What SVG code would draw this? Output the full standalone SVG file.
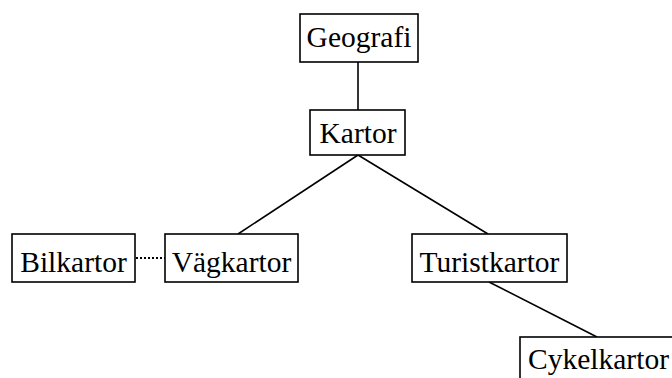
<svg xmlns="http://www.w3.org/2000/svg" width="672" height="378" viewBox="0 0 672 378">
  <style>
    .box { fill: #ffffff; stroke: #000000; stroke-width: 1.6; }
    .label { font-family: "Liberation Serif", "Times New Roman", serif; font-size: 29.5px; fill: #000000; text-anchor: middle; }
    .link { stroke: #000000; stroke-width: 1.6; fill: none; }
    .dotted { stroke: #000000; stroke-width: 2; fill: none; stroke-dasharray: 2 2; }
  </style>
  <rect width="672" height="378" fill="#ffffff"/>
  <g id="connectors">
    <line class="link" x1="358" y1="62" x2="358" y2="110"/>
    <line class="link" x1="358" y1="155" x2="238" y2="234"/>
    <line class="link" x1="358" y1="155" x2="488" y2="234"/>
    <line class="link" x1="489" y1="282" x2="597" y2="337"/>
    <line class="dotted" x1="136" y1="258" x2="165" y2="258"/>
  </g>
  <g id="geografi">
    <rect class="box" x="300" y="14" width="118" height="48"/>
    <text class="label" x="359" y="47">Geografi</text>
  </g>
  <g id="kartor">
    <rect class="box" x="310" y="110" width="95" height="45"/>
    <text class="label" x="358" y="142.5">Kartor</text>
  </g>
  <g id="bilkartor">
    <rect class="box" x="12" y="234" width="123" height="48"/>
    <text class="label" x="73.5" y="272">Bilkartor</text>
  </g>
  <g id="vagkartor">
    <rect class="box" x="165" y="234" width="133" height="48"/>
    <text class="label" x="231.5" y="272">Vägkartor</text>
  </g>
  <g id="turistkartor">
    <rect class="box" x="412" y="234" width="155" height="48"/>
    <text class="label" x="489.5" y="272">Turistkartor</text>
  </g>
  <g id="cykelkartor">
    <rect class="box" x="520" y="337" width="160" height="50"/>
    <text class="label" x="598.5" y="369">Cykelkartor</text>
  </g>
</svg>
